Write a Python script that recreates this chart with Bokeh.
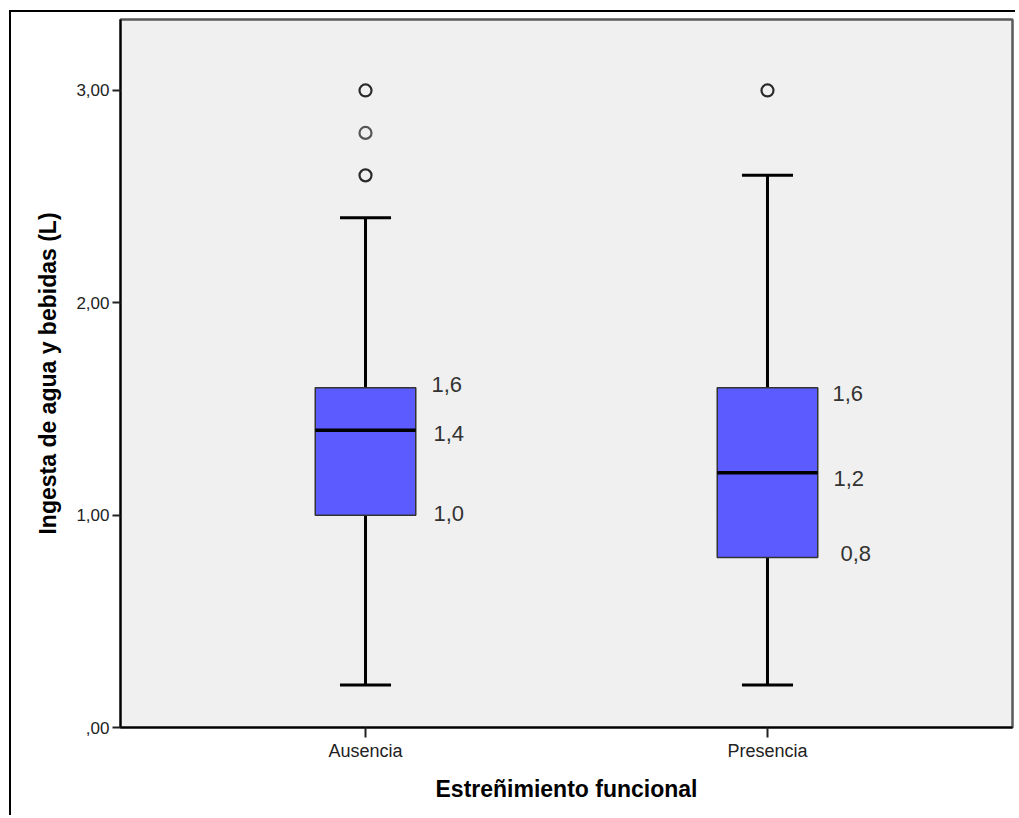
from bokeh.plotting import figure
from bokeh.models import FactorRange, Range1d, FixedTicker, ColumnDataSource
from bokeh.transform import dodge
from bokeh.core.properties import value
from bokeh.embed import file_html
from bokeh.resources import INLINE

# ---- data ----
categories = ["Ausencia", "Presencia"]
whisker_low = [0.2, 0.2]
q1 = [1.0, 0.8]
median = [1.4, 1.2]
q3 = [1.6, 1.6]
whisker_high = [2.4, 2.6]

outlier_cat = ["Ausencia", "Ausencia", "Ausencia", "Presencia"]
outlier_val = [3.0, 2.8, 2.6, 3.0]

label_cat = ["Ausencia", "Ausencia", "Ausencia", "Presencia", "Presencia", "Presencia"]
label_val = [1.6, 1.4, 1.0, 1.6, 1.2, 0.8]
label_txt = ["1,6", "1,4", "1,0", "1,6", "1,2", "0,8"]

y_ticks = [0, 1, 2, 3]
y_tick_labels = [",00", "1,00", "2,00", "3,00"]

x_title = "Estreñimiento funcional"
y_title = "Ingesta de agua y bebidas (L)"

# ---- styling ----
label_dx = [66, 68, 68, 65, 66, 73]
label_dy = [-3, 3, -2, 6, 6, -4]
outlier_line = ["#2a2a2a", "#555555", "#2a2a2a", "#2a2a2a"]
BOX_W = 0.25
CAP_W = 0.127
FONT = "Liberation Sans"

p = figure(
    x_range=FactorRange(*categories, range_padding=0.1095, range_padding_units="absolute"),
    y_range=Range1d(0, 3.334),
    width=1006, height=805,
    output_backend="svg", toolbar_location=None,
    min_border_left=109, min_border_right=5, min_border_top=7, min_border_bottom=90,
)
p.styles = {"border-left": "2px solid black", "border-top": "2px solid black",
            "margin-left": "9px", "margin-top": "10px"}

p.background_fill_color = "#F0F0F0"
p.border_fill_color = "white"
p.outline_line_color = "#5a5a5a"
p.outline_line_width = 2.5
p.xgrid.grid_line_color = None
p.ygrid.grid_line_color = None

src = ColumnDataSource(dict(cat=categories, lo=whisker_low, q1=q1, med=median, q3=q3, hi=whisker_high))

# whiskers
p.segment(x0="cat", x1="cat", y0="lo", y1="q1", source=src, line_color="black", line_width=3)
p.segment(x0="cat", x1="cat", y0="q3", y1="hi", source=src, line_color="black", line_width=3)
# caps
p.segment(x0=dodge("cat", -CAP_W / 2, range=p.x_range), x1=dodge("cat", CAP_W / 2, range=p.x_range),
          y0="lo", y1="lo", source=src, line_color="black", line_width=3)
p.segment(x0=dodge("cat", -CAP_W / 2, range=p.x_range), x1=dodge("cat", CAP_W / 2, range=p.x_range),
          y0="hi", y1="hi", source=src, line_color="black", line_width=3)
# boxes
p.vbar(x="cat", width=BOX_W, bottom="q1", top="q3", source=src,
       fill_color="#5B5BFF", line_color="#333333", line_width=1.5)
# medians
p.segment(x0=dodge("cat", -BOX_W / 2, range=p.x_range), x1=dodge("cat", BOX_W / 2, range=p.x_range),
          y0="med", y1="med", source=src, line_color="black", line_width=3.5)

# outliers
osrc = ColumnDataSource(dict(cat=outlier_cat, val=outlier_val, lc=outlier_line))
p.scatter(x="cat", y="val", source=osrc, marker="circle", size=12,
          fill_color="#F0F0F0", line_color="lc", line_width=2.2)

# value labels
lsrc = ColumnDataSource(dict(cat=label_cat, val=label_val, txt=label_txt, dx=label_dx, dy=label_dy))
p.text(x="cat", y="val", text="txt", x_offset="dx", y_offset="dy", source=lsrc,
       text_font=value(FONT), text_font_size="22px", text_color="#333333",
       text_baseline="middle", text_align="left")

# axes
p.yaxis.ticker = FixedTicker(ticks=y_ticks)
p.yaxis.major_label_overrides = {t: l for t, l in zip(y_ticks, y_tick_labels)}
for ax in (p.xaxis[0], p.yaxis[0]):
    ax.axis_line_color = "black"
    ax.axis_line_width = 2
    ax.major_tick_line_color = "#222222"
    ax.major_tick_line_width = 2
    ax.major_tick_in = 0
    ax.minor_tick_line_color = None
    ax.major_label_text_font = FONT
    ax.major_label_text_color = "#222222"
    ax.axis_label_text_font = FONT
    ax.axis_label_text_font_size = "23px"
    ax.axis_label_text_font_style = "bold"
    ax.axis_label_text_color = "black"

p.yaxis.major_label_text_font_size = "17px"
p.yaxis.major_tick_out = 8
p.yaxis.major_label_standoff = 3
p.yaxis.axis_label = y_title
p.yaxis.axis_label_standoff = 12

p.xaxis.major_label_text_font_size = "18px"
p.xaxis.major_tick_out = 10
p.xaxis.major_label_standoff = 3
p.xaxis.axis_label = x_title
p.xaxis.axis_label_standoff = 12

open("out.html", "w").write(file_html(p, INLINE))
